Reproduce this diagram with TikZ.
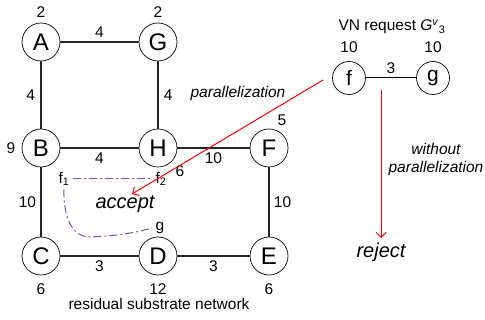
\documentclass[tikz,border=0pt]{standalone}
\usepackage{fontspec}
\setmainfont{Liberation Sans}
\usetikzlibrary{arrows.meta}
\definecolor{mappurple}{RGB}{125,75,190}
\begin{document}
\begin{tikzpicture}[x=1pt,y=-1pt]
	\tikzstyle{SUB} = [draw, circle, line width=0.7pt, minimum size=38pt, inner sep=0pt, font=\fontsize{24}{24}\selectfont]
	\tikzstyle{VN} = [draw, circle, line width=0.7pt, minimum size=33pt, inner sep=0pt, font=\fontsize{21}{21}\selectfont]
	\tikzstyle{num} = [font=\fontsize{15.5}{15.5}\selectfont]
	\tikzstyle{link} = [line width=1.2pt, draw=black!85]
	\tikzstyle{embed} = [draw=mappurple, line width=1pt, dash pattern=on 8pt off 3pt on 2pt off 3pt]
	\tikzstyle{move} = [-{Straight Barb[length=5pt,width=10pt]}, draw=red, line width=1pt]
	\tikzstyle{word} = [font=\fontsize{20}{20}\selectfont\itshape]

	\useasboundingbox (0,0) rectangle (485,320);

	% substrate nodes
	\node[SUB] (A) at (41,42) {A};
	\node[SUB] (G) at (158,42) {G};
	\node[SUB] (B) at (41,148) {B};
	\node[SUB] (H) at (158,148) {H};
	\node[SUB] (F) at (269,148) {F};
	\node[SUB] (C) at (41,256) {C};
	\node[SUB] (D) at (158,256) {D};
	\node[SUB] (E) at (269,256) {E};

	\draw[link] (A) -- (G) node [num,midway,above=1pt] {4};
	\draw[link] (A) -- (B) node [num,midway,left=2pt] {4};
	\draw[link] (G) -- (H) node [num,midway,right=2pt] {4};
	\draw[link] (B) -- (H) node [num,midway,below=1pt] {4};
	\draw[link] (H) -- (F) node [num,midway,below=1pt] {10};
	\draw[link] (B) -- (C) node [num,midway,left=1pt] {10};
	\draw[link] (F) -- (E) node [num,midway,right=1pt] {10};
	\draw[link] (C) -- (D) node [num,midway,below=1pt] {3};
	\draw[link] (D) -- (E) node [num,midway,below=1pt] {3};

	% node capacities
	\node[num] (wA) at (41,12) {2};
	\node[num] (wG) at (158,12) {2};
	\node[num] (wB) at (11,148) {9};
	\node[num] (wH) at (180,171) {6};
	\node[num] (wF) at (282,120) {5};
	\node[num] (wC) at (41,289) {6};
	\node[num] (wD) at (158,289) {12};
	\node[num] (wE) at (269,289) {6};
	\node[num] (title) at (159,304) {residual substrate network};

	% VN request
	\node[num] (req) at (392,27) {VN request \textit{G}\textsuperscript{\textit{v}}\textsubscript{3}};
	\node[VN] (f) at (349,78) {f};
	\node[VN] (g) at (433,78) {g};
	\draw[line width=1pt] (f) -- (g) node [num,midway,above=1pt] {3};
	\node[num] (wf) at (349,47) {10};
	\node[num] (wg) at (433,47) {10};

	% mapping with parallelization
	\node[num] (f1) at (64,179) {f\textsubscript{1}};
	\node[num] (f2) at (161,179) {f\textsubscript{2}};
	\node[num] (g1) at (160,228) {g};
	\draw[embed] (f1.east) -- (f2.west);
	\draw[embed] (f1.south) to[out=-92,in=180] (90,237) to[out=3,in=195] (g1.west);

	\node[word] (accept) at (125,204) {accept};
	\coordinate (pstart) at (323,80);
	\coordinate (ptip) at (132,194);
	\draw[move] (pstart) -- (ptip);
	\node[num,font=\fontsize{15.5}{15.5}\selectfont\itshape] (par) at (238,93) {parallelization};

	% without parallelization
	\node[word] (reject) at (381,252) {reject};
	\coordinate (rstart) at (381,90);
	\coordinate (rtip) at (381,238);
	\draw[move] (rstart) -- (rtip);
	\node[num,font=\fontsize{15.5}{18}\selectfont\itshape,align=center] (wo) at (436,159) {without\\parallelization};
\end{tikzpicture}
\end{document}
